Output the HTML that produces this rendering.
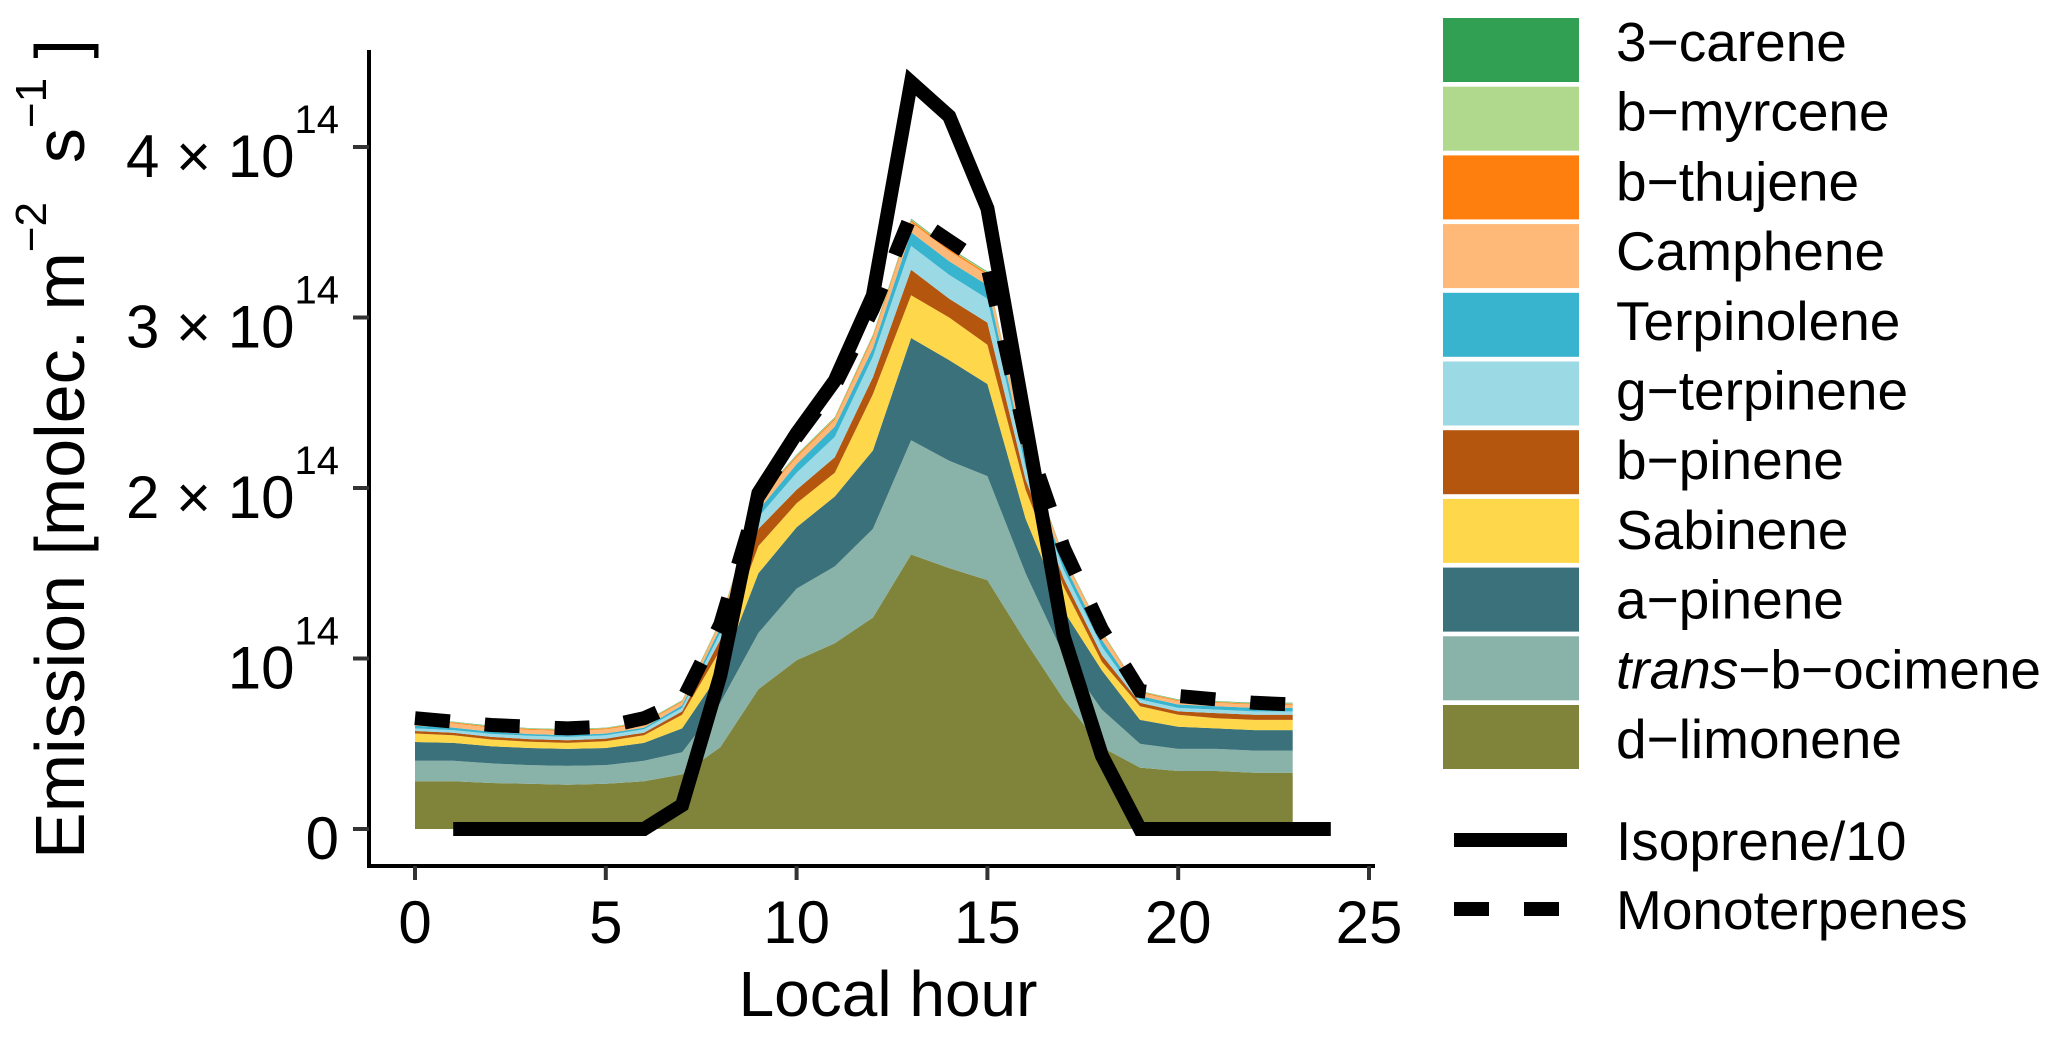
<!DOCTYPE html>
<html><head><meta charset="utf-8"><style>
html,body{margin:0;padding:0;background:#fff}
svg{display:block}
text{font-family:"Liberation Sans",Arial,sans-serif;fill:#000}
</style></head><body>
<svg id="chart" width="2067" height="1038" viewBox="0 0 2067 1038" xmlns="http://www.w3.org/2000/svg">
<g id="areas"></g>
<g id="lines"></g>
<g id="axes"></g>
<g id="legend"></g>
</svg>
<script>
const hours = [0,1,2,3,4,5,6,7,8,9,10,11,12,13,14,15,16,17,18,19,20,21,22,23];
const seriesNames = ["d-limonene","trans-b-ocimene","a-pinene","Sabinene","b-pinene","g-terpinene","Terpinolene","Camphene","b-thujene","b-myrcene","3-carene"];
const seriesColors = ["#80843a","#89b2a8","#3a717a","#fed84a","#b5560e","#9bd9e5","#38b4cf","#feb877","#fe7f0e","#b0d98e","#31a053"];
const dLimonene   = [.28,.28,.27,.265,.26,.265,.28,.32,.48,.82,.99,1.09,1.24,1.61,1.53,1.46,1.10,.76,.48,.36,.34,.34,.33,.33];
const transOcimene= [.12,.12,.115,.11,.11,.11,.12,.13,.26,.33,.42,.45,.52,.67,.63,.61,.40,.26,.22,.14,.13,.13,.13,.13];
const aPinene     = [.11,.105,.10,.10,.10,.10,.105,.14,.18,.35,.36,.41,.46,.60,.59,.54,.32,.26,.23,.14,.13,.12,.12,.12];
const sabinene    = [.05,.045,.04,.037,.035,.04,.045,.08,.13,.16,.14,.14,.33,.25,.25,.23,.17,.14,.05,.08,.07,.06,.06,.06];
const bPinene     = [.015,.015,.015,.015,.015,.015,.015,.02,.06,.10,.08,.09,.10,.15,.11,.13,.06,.05,.04,.02,.02,.03,.03,.03];
const gTerpinene  = [.015,.015,.018,.02,.02,.02,.02,.02,.04,.07,.10,.12,.12,.14,.14,.14,.07,.05,.05,.02,.02,.02,.02,.02];
const terpinolene = [.015,.015,.012,.01,.01,.01,.01,.015,.03,.04,.05,.06,.05,.08,.08,.08,.04,.04,.04,.02,.02,.02,.02,.02];
const camphene    = [.025,.025,.025,.025,.025,.025,.025,.02,.03,.06,.04,.04,.06,.06,.06,.06,.04,.03,.04,.02,.02,.02,.02,.02];
const bThujene    = [.005,.005,.005,.005,.005,.005,.005,.005,.006,.008,.008,.008,.01,.01,.01,.01,.008,.006,.005,.005,.005,.005,.005,.005];
const bMyrcene    = [.003,.003,.003,.003,.003,.003,.003,.003,.004,.005,.005,.005,.006,.006,.006,.006,.005,.004,.003,.003,.003,.003,.003,.003];
const carene3     = [.002,.002,.002,.002,.002,.002,.002,.002,.003,.003,.003,.003,.004,.004,.004,.004,.003,.003,.002,.002,.002,.002,.002,.002];
const isoHours = [1,2,3,4,5,6,7,8,9,10,11,12,13,14,15,16,17,18,19,20,21,22,23,24];
const isoprene10 = [0,0,0,0,0,0,.14,.9,1.97,2.32,2.63,3.13,4.38,4.18,3.64,2.38,1.13,.43,0,0,0,0,0,0];
const monoterpenes = [.65,.63,.61,.60,.59,.60,.65,.75,1.2,1.95,2.3,2.6,3.05,3.6,3.45,3.3,2.3,1.65,1.17,.81,.78,.76,.74,.73];
const xTicks = [0,5,10,15,20,25];
const yTicks = [0,1,2,3,4];
const yTickLabels = ["0","10","2 × 10","3 × 10","4 × 10"];

const NS="http://www.w3.org/2000/svg";
const X0=415, XPH=(1369-415)/25, Y0=829, YPU=170.5;
const xs=h=>X0+h*XPH, ys=v=>Y0-v*YPU;
function mk(tag,parent,attrs){const e=document.createElementNS(NS,tag);for(const k in attrs)e.setAttribute(k,attrs[k]);parent.appendChild(e);return e;}
const series=[dLimonene,transOcimene,aPinene,sabinene,bPinene,gTerpinene,terpinolene,camphene,bThujene,bMyrcene,carene3];
const areas=document.getElementById('areas');
let base=hours.map(()=>0);
series.forEach((s,i)=>{
  const top=base.map((b,j)=>b+s[j]);
  let d=hours.map((h,j)=>(j?'L':'M')+xs(h).toFixed(1)+','+ys(top[j]).toFixed(1)).join('');
  for(let j=hours.length-1;j>=0;j--)d+='L'+xs(hours[j]).toFixed(1)+','+ys(base[j]).toFixed(1);
  const p=mk('path',areas,{d:d+'Z',fill:seriesColors[i]});
  
  
  base=top;
});
const lines=document.getElementById('lines');
const iso=mk('path',lines,{d:isoHours.map((h,j)=>(j?'L':'M')+xs(h).toFixed(1)+','+ys(isoprene10[j]).toFixed(1)).join(''),fill:'none',stroke:'#000','stroke-width':14,'stroke-linejoin':'miter'});


const mono=mk('path',lines,{d:hours.map((h,j)=>(j?'L':'M')+xs(h).toFixed(1)+','+ys(monoterpenes[j]).toFixed(1)).join(''),fill:'none',stroke:'#000','stroke-width':14,'stroke-dasharray':'35 35'});



const axes=document.getElementById('axes');
const ya=mk('line',axes,{x1:369,y1:50,x2:369,y2:867,stroke:'#000','stroke-width':4});


const xa=mk('line',axes,{x1:367,y1:866,x2:1375,y2:866,stroke:'#000','stroke-width':4});


xTicks.forEach(t=>{
  const l=mk('line',axes,{x1:xs(t),y1:866,x2:xs(t),y2:880,stroke:'#333','stroke-width':4});
  
  
  const tx=mk('text',axes,{x:xs(t),y:943,'font-size':60,'text-anchor':'middle'});
  tx.textContent=t;
  
  
});
yTicks.forEach((t,i)=>{
  const l=mk('line',axes,{x1:353,y1:ys(t),x2:369,y2:ys(t),stroke:'#333','stroke-width':4});
  
  
  const tx=mk('text',axes,{x:339,y:ys(t)+30,'font-size':60,'text-anchor':'end'});
  
  
  if(t===0){tx.textContent='0';}
  else{
    const a=mk('tspan',tx,{'xml:space':'preserve'});a.textContent=yTickLabels[i];
    const b=mk('tspan',tx,{'font-size':40,dy:-44});b.textContent='14';
  }
});
const xt=mk('text',axes,{x:888,y:1016,'font-size':64,'text-anchor':'middle'});
xt.textContent='Local hour';


const yt=mk('text',axes,{x:0,y:0,'font-size':70,'text-anchor':'middle',transform:'translate(84,449) rotate(-90)'});


const s1=mk('tspan',yt,{});s1.textContent='Emission [molec. m';
const s2=mk('tspan',yt,{'font-size':44,dy:-38});s2.textContent='−2';
const s3=mk('tspan',yt,{dy:38});s3.textContent='\u00a0\u00a0s';
const s4=mk('tspan',yt,{'font-size':44,dy:-38});s4.textContent='−1';
const s5=mk('tspan',yt,{dy:38});s5.textContent='\u00a0]';

const legend=document.getElementById('legend');
const legendOrder=[10,9,8,7,6,5,4,3,2,1,0];
const legendLabels=["3−carene","b−myrcene","b−thujene","Camphene","Terpinolene","g−terpinene","b−pinene","Sabinene","a−pinene","trans−b−ocimene","d−limonene"];
legendOrder.forEach((si,k)=>{
  const y=18+k*68.7;
  const r=mk('rect',legend,{x:1443,y:y,width:136,height:64,fill:seriesColors[si]});
  
  
  const t=mk('text',legend,{x:1616,y:61+k*69.7,'font-size':55});
  
  
  if(k===9){const a=mk('tspan',t,{'font-style':'italic'});a.textContent='trans';const b=mk('tspan',t,{});b.textContent='−b−ocimene';}
  else t.textContent=legendLabels[k];
});
const li=mk('line',legend,{x1:1454,y1:840,x2:1567,y2:840,stroke:'#000','stroke-width':14});


const lt1=mk('text',legend,{x:1616,y:860,'font-size':55});lt1.textContent='Isoprene/10';


const lm=mk('line',legend,{x1:1454,y1:909,x2:1559,y2:909,stroke:'#000','stroke-width':14,'stroke-dasharray':'35 35'});


const lt2=mk('text',legend,{x:1616,y:929,'font-size':55});lt2.textContent='Monoterpenes';


</script>
</body></html>
